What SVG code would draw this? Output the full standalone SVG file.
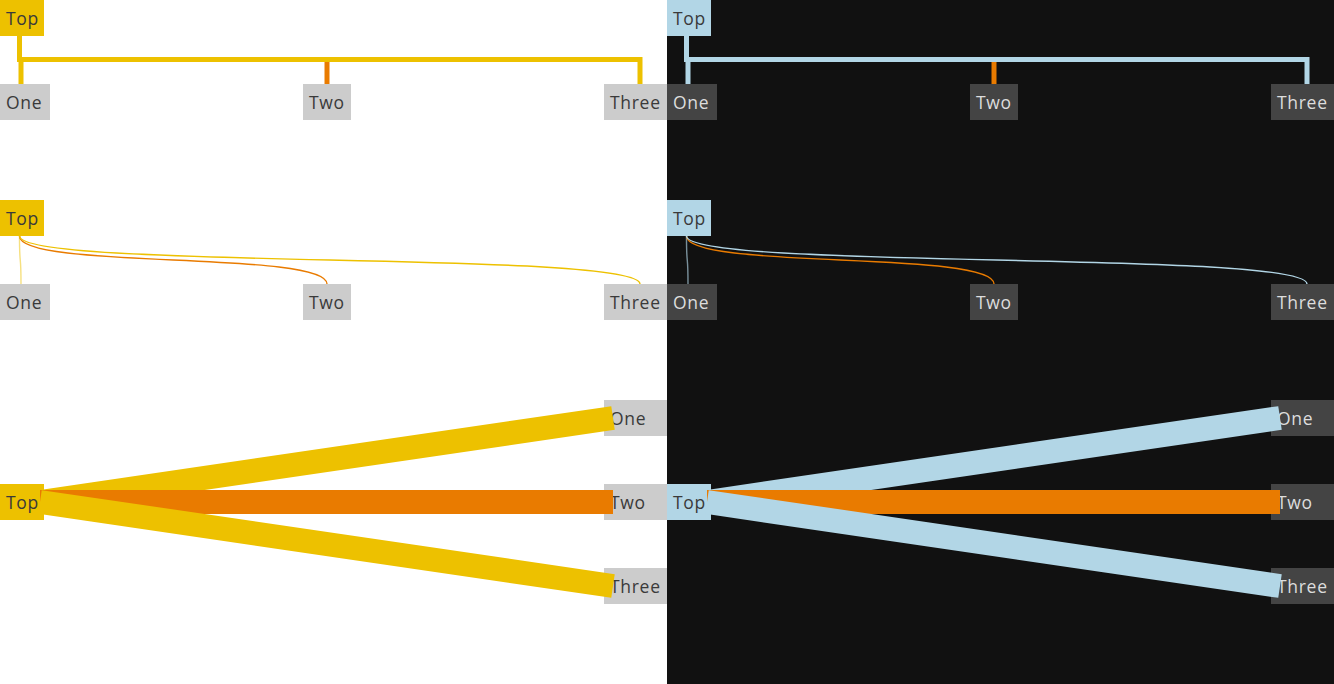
<svg xmlns="http://www.w3.org/2000/svg" width="1334" height="684" viewBox="0 0 1334 684">
<style>
.lt{font-family:"Open Sans","Liberation Sans",sans-serif;font-size:17.5px;letter-spacing:0.7px;fill:#3a3a3a}
.dk{font-family:"Open Sans","Liberation Sans",sans-serif;font-size:17.5px;letter-spacing:0.7px;fill:#dddddd}
.ny{fill:#edc100}
.nb{fill:#b2d6e6}
.ng{fill:#cccccc}
.nd{fill:#444444}
.l1{fill:none;stroke-width:5}
.l2{fill:none;stroke-width:1.4}
.l3{fill:none;stroke-width:24;stroke-linecap:butt}
.y{stroke:#edc100}
.yf{stroke:#edc100;stroke-opacity:0.5}
.o{stroke:#e97b00}
.b{stroke:#b2d6e6}
.bf{stroke:#b2d6e6;stroke-opacity:0.65}
</style>
<rect x="0" y="0" width="667" height="684" fill="#ffffff"/>
<rect x="667" y="0" width="667" height="684" fill="#111111"/>

<!-- Nodes: left panel -->
<g id="L1-top"><rect class="ny" x="0" y="0" width="44" height="36"/><text class="lt" x="6" y="24.5">Top</text></g>
<g id="L1-one"><rect class="ng" x="0" y="84" width="50" height="36"/><text class="lt" x="6" y="108.5">One</text></g>
<g id="L1-two"><rect class="ng" x="303" y="84" width="48" height="36"/><text class="lt" x="309" y="108.5">Two</text></g>
<g id="L1-three"><rect class="ng" x="604" y="84" width="63" height="36"/><text class="lt" x="610" y="108.5">Three</text></g>

<g id="L2-top"><rect class="ny" x="0" y="200" width="44" height="36"/><text class="lt" x="6" y="224.5">Top</text></g>
<g id="L2-one"><rect class="ng" x="0" y="284" width="50" height="36"/><text class="lt" x="6" y="308.5">One</text></g>
<g id="L2-two"><rect class="ng" x="303" y="284" width="48" height="36"/><text class="lt" x="309" y="308.5">Two</text></g>
<g id="L2-three"><rect class="ng" x="604" y="284" width="63" height="36"/><text class="lt" x="610" y="308.5">Three</text></g>

<g id="L3-top"><rect class="ny" x="0" y="484" width="44" height="36"/><text class="lt" x="6" y="508.5">Top</text></g>
<g id="L3-one"><rect class="ng" x="604" y="400" width="63" height="36"/><text class="lt" x="610" y="424.5">One</text></g>
<g id="L3-two"><rect class="ng" x="604" y="484" width="63" height="36"/><text class="lt" x="610" y="508.5">Two</text></g>
<g id="L3-three"><rect class="ng" x="604" y="568" width="63" height="36"/><text class="lt" x="610" y="592.5">Three</text></g>

<!-- Nodes: right panel -->
<g id="R1-top"><rect class="nb" x="667" y="0" width="44" height="36"/><text class="lt" x="673" y="24.5">Top</text></g>
<g id="R1-one"><rect class="nd" x="667" y="84" width="50" height="36"/><text class="dk" x="673" y="108.5">One</text></g>
<g id="R1-two"><rect class="nd" x="970" y="84" width="48" height="36"/><text class="dk" x="976" y="108.5">Two</text></g>
<g id="R1-three"><rect class="nd" x="1271" y="84" width="63" height="36"/><text class="dk" x="1277" y="108.5">Three</text></g>

<g id="R2-top"><rect class="nb" x="667" y="200" width="44" height="36"/><text class="lt" x="673" y="224.5">Top</text></g>
<g id="R2-one"><rect class="nd" x="667" y="284" width="50" height="36"/><text class="dk" x="673" y="308.5">One</text></g>
<g id="R2-two"><rect class="nd" x="970" y="284" width="48" height="36"/><text class="dk" x="976" y="308.5">Two</text></g>
<g id="R2-three"><rect class="nd" x="1271" y="284" width="63" height="36"/><text class="dk" x="1277" y="308.5">Three</text></g>

<g id="R3-top"><rect class="nb" x="667" y="484" width="44" height="36"/><text class="lt" x="673" y="508.5">Top</text></g>
<g id="R3-one"><rect class="nd" x="1271" y="400" width="63" height="36"/><text class="dk" x="1277" y="424.5">One</text></g>
<g id="R3-two"><rect class="nd" x="1271" y="484" width="63" height="36"/><text class="dk" x="1277" y="508.5">Two</text></g>
<g id="R3-three"><rect class="nd" x="1271" y="568" width="63" height="36"/><text class="dk" x="1277" y="592.5">Three</text></g>

<!-- Connectors -->
<g id="connectors">
  <!-- row 1 left -->
  <path class="l1 o" d="M327,60 V84"/>
  <path class="l1 y" d="M21,59.5 V84"/>
  <path class="l1 y" d="M19.5,36 V59.5 H640 V84"/>
  <!-- row 1 right -->
  <path class="l1 o" d="M994,60 V84"/>
  <path class="l1 b" d="M688,59.5 V84"/>
  <path class="l1 b" d="M686.5,36 V59.5 H1307 V84"/>

  <!-- row 2 left -->
  <path class="l2 yf" d="M19.5,236 C19.5,270 21,250 21,284"/>
  <path class="l2 o" d="M19.5,236 C19.5,270 327,250 327,284"/>
  <path class="l2 y" d="M19.5,236 C19.5,270 640,250 640,284"/>
  <!-- row 2 right -->
  <path class="l2 bf" d="M686.5,236 C686.5,270 688,250 688,284"/>
  <path class="l2 o" d="M686.5,236 C686.5,270 994,250 994,284"/>
  <path class="l2 b" d="M686.5,236 C686.5,270 1307,250 1307,284"/>

  <!-- row 3 left -->
  <path class="l3 y" d="M40,502 L613,418"/>
  <path class="l3 o" d="M40,502 L613,502"/>
  <path class="l3 y" d="M40,502 L613,586"/>
  <!-- row 3 right -->
  <path class="l3 b" d="M707,502 L1280,418"/>
  <path class="l3 o" d="M707,502 L1280,502"/>
  <path class="l3 b" d="M707,502 L1280,586"/>
</g>
</svg>
